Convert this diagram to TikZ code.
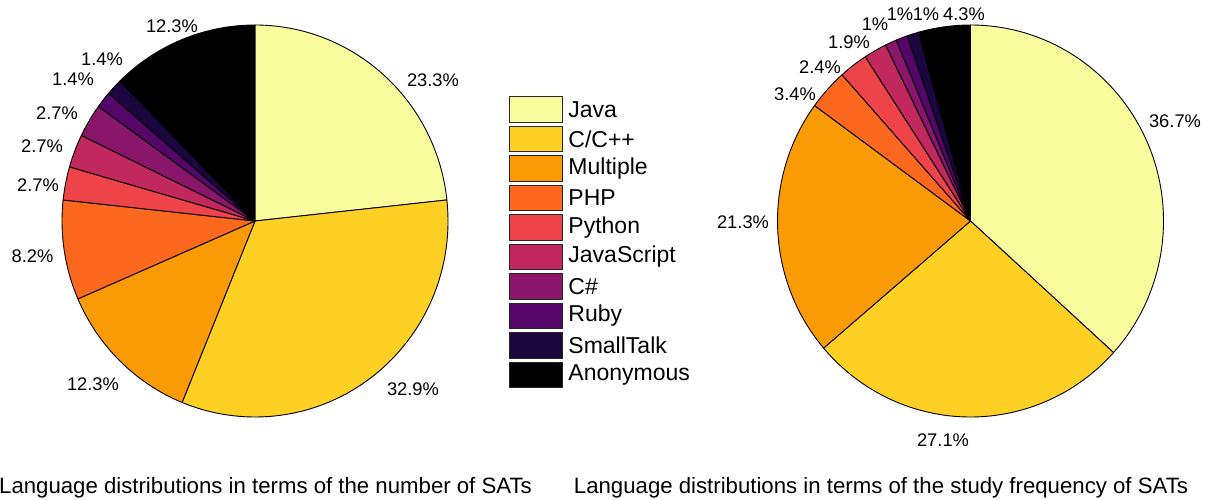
\documentclass[tikz,border=0pt]{standalone}
\usepackage{fontspec}
\setmainfont{Liberation Sans}
\definecolor{cJava}{HTML}{F9FC9D}
\definecolor{cCpp}{HTML}{FDD023}
\definecolor{cMult}{HTML}{FA9B06}
\definecolor{cPHP}{HTML}{FC681D}
\definecolor{cPy}{HTML}{EE4348}
\definecolor{cJS}{HTML}{C1285D}
\definecolor{cCs}{HTML}{8A166C}
\definecolor{cRuby}{HTML}{550669}
\definecolor{cST}{HTML}{1B0640}
\definecolor{cAnon}{HTML}{000000}
\tikzset{
  pct/.style={font=\fontsize{18.3}{20}\selectfont, inner sep=0pt},
  slice/.style={draw=black, line width=0.9pt, line join=round},
  legbox/.style={draw=black!85, line width=0.9pt},
  legtext/.style={font=\fontsize{23}{25}\selectfont, anchor=west, inner sep=0pt},
  captext/.style={font=\fontsize{22.2}{24}\selectfont, anchor=base, inner sep=0pt}
}
% one wedge of a pie, drawn clockwise from #1 to #2 degrees
\newcommand{\pieslice}[3]{%
  \filldraw[slice, fill=#3] (0,0) -- (#1:193 and 196)
    arc[start angle=#1, end angle=#2, x radius=193, y radius=196] -- cycle;}
\begin{document}
\begin{tikzpicture}[x=1pt,y=1pt]
\useasboundingbox (0,0) rectangle (1210,499);
\coordinate (L) at (255,278);
\coordinate (R) at (970.5,278);

% number of SATs per language (73 in total)
\begin{scope}[shift={(L)}]
  \pieslice{90}{6.164}{cJava}
  \pieslice{6.164}{-112.192}{cCpp}
  \pieslice{-112.192}{-156.575}{cMult}
  \pieslice{-156.575}{-186.164}{cPHP}
  \pieslice{-186.164}{-196.027}{cPy}
  \pieslice{-196.027}{-205.890}{cJS}
  \pieslice{-205.890}{-215.753}{cCs}
  \pieslice{-215.753}{-220.685}{cRuby}
  \pieslice{-220.685}{-225.616}{cST}
  \pieslice{-225.616}{-270}{cAnon}
\end{scope}

% study frequency per language (207 in total)
\begin{scope}[shift={(R)}]
  \pieslice{90}{-42.174}{cJava}
  \pieslice{-42.174}{-139.565}{cCpp}
  \pieslice{-139.565}{-216.087}{cMult}
  \pieslice{-216.087}{-228.261}{cPHP}
  \pieslice{-228.261}{-236.957}{cPy}
  \pieslice{-236.957}{-243.913}{cJS}
  \pieslice{-243.913}{-247.391}{cCs}
  \pieslice{-247.391}{-250.870}{cRuby}
  \pieslice{-250.870}{-254.348}{cST}
  \pieslice{-254.348}{-270}{cAnon}
\end{scope}

% percentages, left pie
\node[pct] (lJava) at (433,419) {23.3\%};
\node[pct] (lCpp)  at (413,110) {32.9\%};
\node[pct] (lMult) at (93,115)  {12.3\%};
\node[pct] (lPHP)  at (32.5,243) {8.2\%};
\node[pct] (lPy)   at (38,314)  {2.7\%};
\node[pct] (lJS)   at (42,353)  {2.7\%};
\node[pct] (lCs)   at (57,386)  {2.7\%};
\node[pct] (lRuby) at (73,420)  {1.4\%};
\node[pct] (lST)   at (102,440) {1.4\%};
\node[pct] (lAnon) at (172,473) {12.3\%};

% percentages, right pie
\node[pct] (rJava) at (1175,378) {36.7\%};
\node[pct] (rCpp)  at (943,59)   {27.1\%};
\node[pct] (rMult) at (743,277)  {21.3\%};
\node[pct] (rPHP)  at (795,405)  {3.4\%};
\node[pct] (rPy)   at (820,432)  {2.4\%};
\node[pct] (rJS)   at (849,457)  {1.9\%};
\node[pct] (rCs)   at (875,475)  {1\%};
\node[pct] (rRuby) at (900,485)  {1\%};
\node[pct] (rST)   at (926,485)  {1\%};
\node[pct] (rAnon) at (964,485)  {4.3\%};

% legend
\foreach \col/\txt [count=\i from 0] in
  {cJava/Java, cCpp/C\slash C++, cMult/Multiple, cPHP/PHP, cPy/Python,
   cJS/JavaScript, cCs/C\#, cRuby/Ruby, cST/SmallTalk, cAnon/Anonymous}{
  \pgfmathsetmacro{\yt}{499-96.7-29.5*\i}
  \filldraw[legbox, fill=\col] (509.3,\yt) rectangle (562,\yt-25.3)
    node[legtext] (leg\i) at (568,\yt-12.65) {\txt};
}

% captions
\node[captext] (capL) at (265.5,6) {Language distributions in terms of the number of SATs};
\node[captext] (capR) at (881,6) {Language distributions in terms of the study frequency of SATs};
\end{tikzpicture}
\end{document}
